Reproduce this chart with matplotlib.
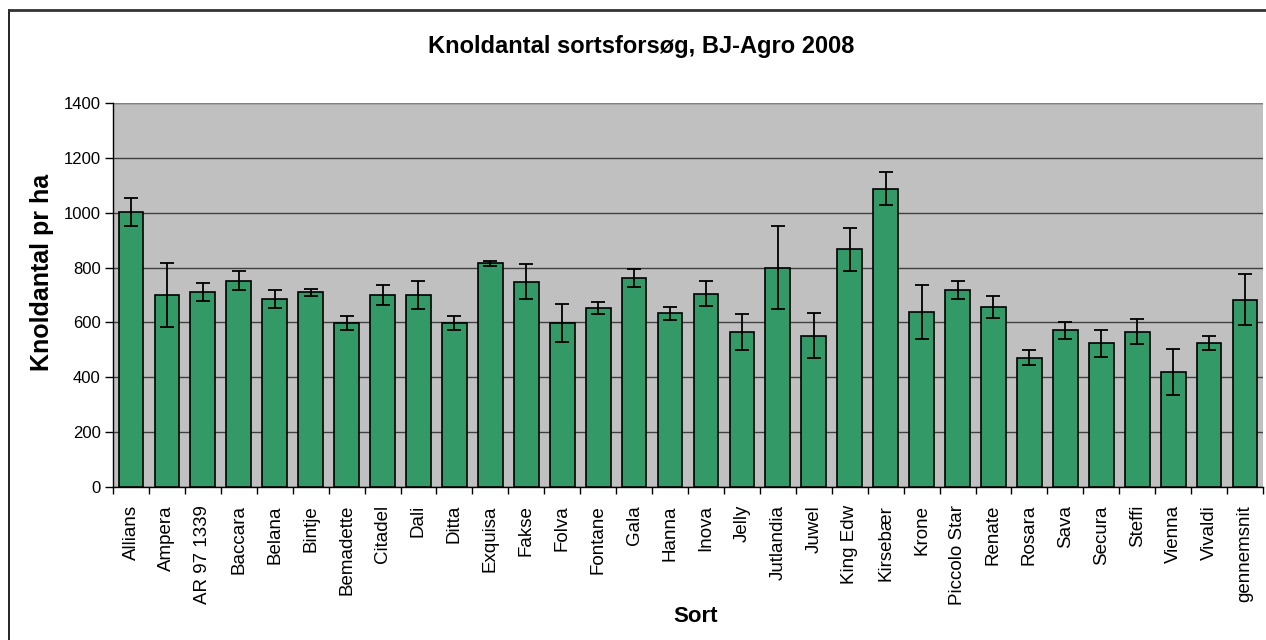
import matplotlib.pyplot as plt
from matplotlib.lines import Line2D
import numpy as np

plt.rcParams['font.family'] = ['Liberation Sans', 'DejaVu Sans']

sorter = ["Allians", "Ampera", "AR 97 1339", "Baccara", "Belana", "Bintje", "Bemadette",
          "Citadel", "Dali", "Ditta", "Exquisa", "Fakse", "Folva", "Fontane", "Gala",
          "Hanna", "Inova", "Jelly", "Jutlandia", "Juwel", "King Edw", "Kirsebær", "Krone",
          "Piccolo Star", "Renate", "Rosara", "Sava", "Secura", "Steffi", "Vienna",
          "Vivaldi", "gennemsnit"]
knoldantal = [1003, 700, 710, 752, 685, 710, 599, 700, 700, 599, 815, 749, 599, 651, 762,
              633, 705, 566, 800, 552, 866, 1088, 637, 719, 657, 472, 571, 524, 566, 419,
              524, 682]
fejl = [52, 115, 33, 35, 34, 12, 25, 35, 50, 25, 9, 63, 70, 22, 33, 23, 45, 65, 152, 83,
        78, 59, 98, 32, 40, 29, 31, 50, 45, 84, 26, 93]

fig = plt.figure(figsize=(12.66, 6.4), dpi=100)
ax = fig.add_axes([113 / 1266, 1 - 487 / 640, 1150 / 1266, 384 / 640])

x = np.arange(len(sorter))
ax.set_facecolor("#C0C0C0")
ax.bar(x, knoldantal, width=0.69, color="#339966", edgecolor="black", linewidth=1.2, zorder=3)
ax.errorbar(x, knoldantal, yerr=fejl, fmt="none", ecolor="black", elinewidth=1.3,
            capsize=5, capthick=1.3, zorder=4)

ax.set_xlim(-0.5, len(sorter) - 0.5)
ax.set_ylim(0, 1400)
ax.set_yticks(range(0, 1401, 200))
ax.yaxis.grid(True, color="#404040", linewidth=1.0, zorder=1)
ax.set_axisbelow(True)

# category labels centred, tick marks on boundaries
ax.set_xticks(x)
ax.set_xticklabels(sorter, rotation=90, fontsize=13.5)
ax.tick_params(axis="x", which="major", length=0, pad=13)
ax.set_xticks(np.arange(-0.5, len(sorter)), minor=True)
ax.tick_params(axis="x", which="minor", length=5, width=1, direction="out")
ax.tick_params(axis="y", length=6, width=1, labelsize=12, pad=3)

for side in ["top", "right"]:
    ax.spines[side].set_visible(False)
ax.spines["left"].set_linewidth(1.0)
ax.spines["bottom"].set_linewidth(1.0)
ax.axhline(1400, color="#808080", linewidth=1.5, zorder=2)

fig.text(42 / 1266, 1 - 272 / 640, "Knoldantal pr ha", fontsize=18, fontweight="bold",
         rotation=90, ha="center", va="center")
fig.text(696 / 1266, 1 - 616 / 640, "Sort", fontsize=16, fontweight="bold",
         ha="center", va="center")
fig.text(641 / 1266, 1 - 47 / 640, "Knoldantal sortsforsøg, BJ-Agro 2008", fontsize=17,
         fontweight="bold", ha="center", va="center")

# outer chart frame (right and bottom fall outside the picture)
fig.add_artist(Line2D([9 / 1266, 9 / 1266], [0, 1 - 10 / 640], color="black", linewidth=1.2,
                      transform=fig.transFigure))
fig.add_artist(Line2D([9 / 1266, 1], [1 - 10 / 640, 1 - 10 / 640], color="#333333",
                      linewidth=2.0, transform=fig.transFigure))

fig.savefig("out.png", dpi=100)
